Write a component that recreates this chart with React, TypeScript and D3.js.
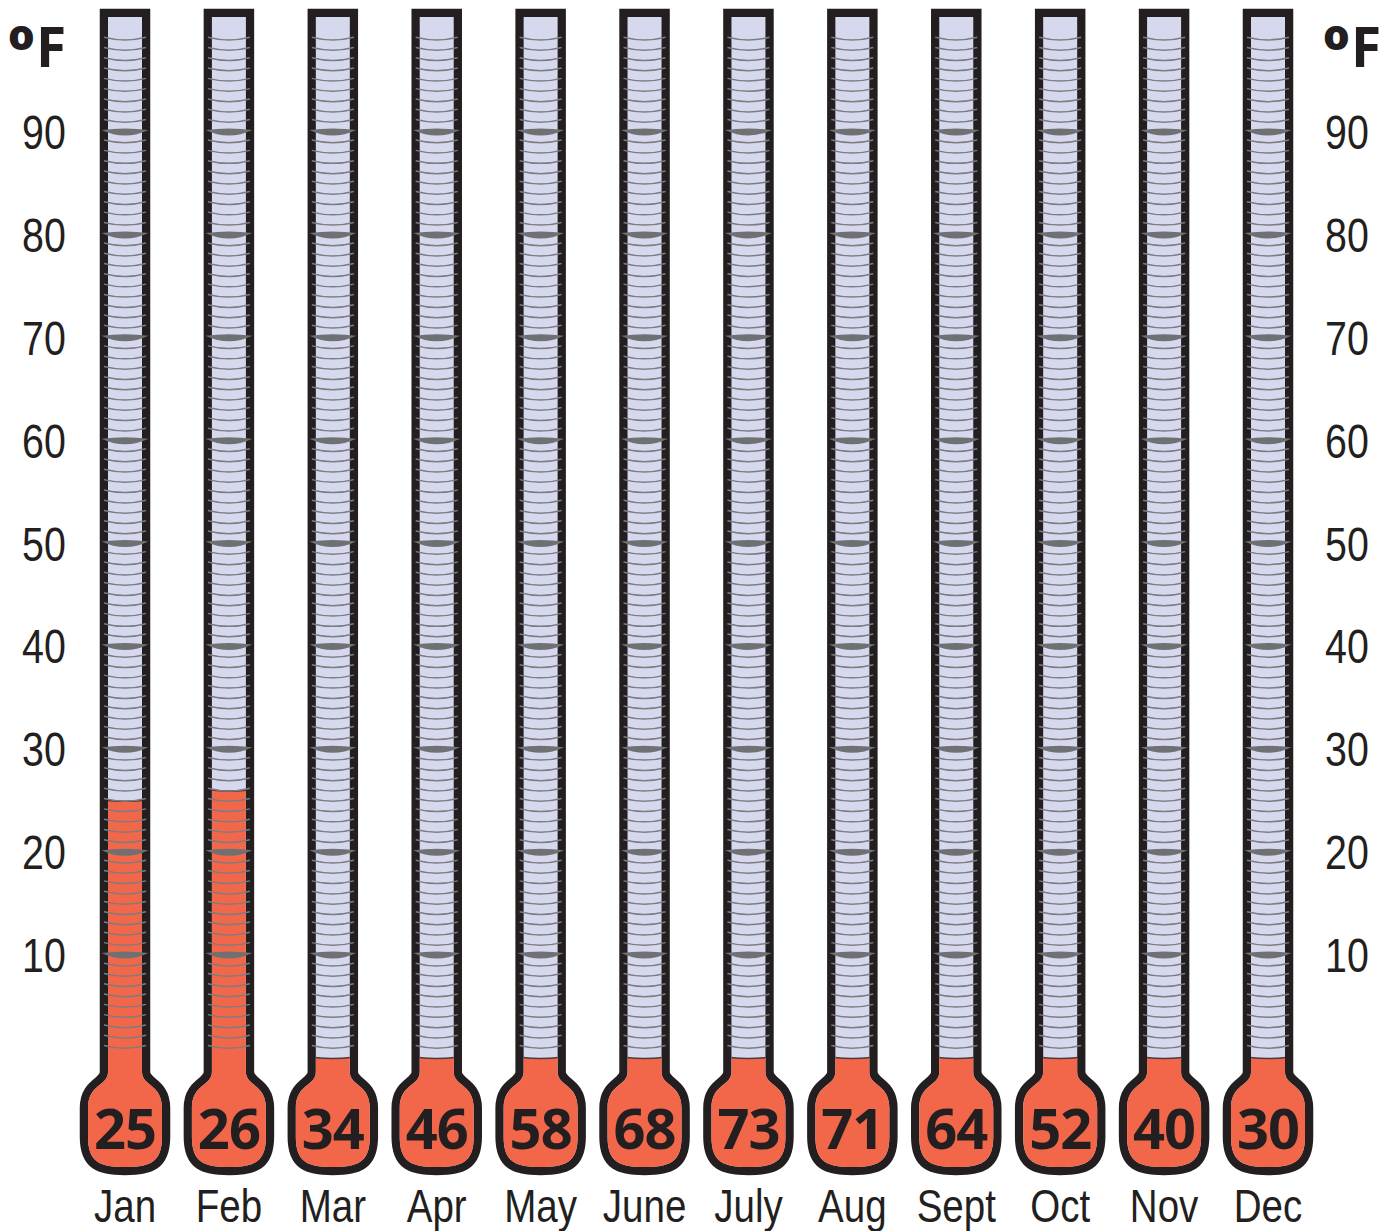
import React from 'react';
import * as d3 from 'd3';

const months = ['Jan', 'Feb', 'Mar', 'Apr', 'May', 'June', 'July', 'Aug', 'Sept', 'Oct', 'Nov', 'Dec'];
const temps = [25, 26, 34, 46, 58, 68, 73, 71, 64, 52, 40, 30];
const tubeLevels = [25, 26, 0, 0, 0, 0, 0, 0, 0, 0, 0, 0];
const axisTicks = [10, 20, 30, 40, 50, 60, 70, 80, 90];
const unitDeg = 'o';
const unitF = 'F';

const W = 1392;
const H = 1231;
const BLACK = '#231f20';
const LAV = '#d6d8ee';
const RED = '#f2674a';
const TICK = '#6f7072';
const NUMFONT = "'Noto Sans', 'DejaVu Sans', sans-serif";
const AXFONT = "'Liberation Sans', Arial, sans-serif";
const SX = 0.82;

function bulbPath(cx: number): string {
  const hw = 17, bw = 37, top = 17, neck = 1072, bottom = 1167;
  return `M${cx - hw},${top} L${cx + hw},${top} L${cx + hw},${neck} ` +
    `C${cx + hw},${neck + 14} ${cx + bw},${neck + 12} ${cx + bw},${neck + 36} ` +
    `L${cx + bw},${bottom - 30} C${cx + bw},${bottom - 4} ${cx + 24},${bottom} ${cx},${bottom} ` +
    `C${cx - 24},${bottom} ${cx - bw},${bottom - 4} ${cx - bw},${bottom - 30} ` +
    `L${cx - bw},${neck + 36} C${cx - bw},${neck + 12} ${cx - hw},${neck + 14} ${cx - hw},${neck} Z`;
}

export default function App() {
  const x = d3.scalePoint<string>().domain(months).range([125, 1268]);
  const y = d3.scaleLinear().domain([0, 90]).range([1058, 132]);
  const minor = d3.range(1, 100).filter((d) => d % 10 !== 0);
  const major = d3.range(10, 100, 10);

  return (
    <svg width={W} height={H} viewBox={`0 0 ${W} ${H}`}
      style={{ position: 'absolute', left: 0, top: 0, background: '#fff' }}>
      <defs>
        {months.map((m, i) => (
          <clipPath id={`clip${i}`} key={m}>
            <path d={bulbPath(x(m) as number)} />
          </clipPath>
        ))}
      </defs>
      {months.map((m, i) => {
        const cx = x(m) as number;
        const p = bulbPath(cx);
        const lvl = y(tubeLevels[i]);
        return (
          <g key={m}>
            <path d={p} fill={BLACK} stroke={BLACK} strokeWidth={16.5} strokeLinejoin="miter" />
            <path d={p} fill={LAV} />
            <g clipPath={`url(#clip${i})`}>
              <rect x={cx - 40} y={lvl} width={80} height={H - lvl} fill={RED} />
              <path d={`M${cx - 18},${lvl - 0.5} Q${cx},${lvl + 1.5} ${cx + 18},${lvl - 0.5}`}
                fill="none" stroke="#4a3a38" strokeWidth={1.6} />
            </g>
            {minor.map((d) => {
              const yy = y(d);
              return (
                <path key={d} d={`M${cx - 21},${yy - 2.2} Q${cx},${yy + 3.2} ${cx + 21},${yy - 2.2}`}
                  fill="none" stroke="#7c7d80" strokeWidth={1.5} />
              );
            })}
            {major.map((d) => {
              const yy = y(d);
              return (
                <path key={d}
                  d={`M${cx - 23.5},${yy - 2} Q${cx},${yy - 5} ${cx + 23.5},${yy - 2} Q${cx},${yy + 9} ${cx - 23.5},${yy - 2} Z`}
                  fill={TICK} />
              );
            })}
            <text x={cx} y={1149} textAnchor="middle" fontFamily={NUMFONT} fontWeight={700}
              fontSize={56} fill={BLACK} letterSpacing={-1}>{temps[i]}</text>
            <text transform={`translate(${cx},1222) scale(${SX},1)`} textAnchor="middle"
              fontFamily={AXFONT} fontSize={47} fill={BLACK}>{m}</text>
          </g>
        );
      })}
      {axisTicks.map((t) => (
        <g key={t}>
          <text transform={`translate(44,${y(t) + 17}) scale(${SX},1)`} textAnchor="middle"
            fontFamily={AXFONT} fontSize={48} fill={BLACK}>{t}</text>
          <text transform={`translate(1347,${y(t) + 17}) scale(${SX},1)`} textAnchor="middle"
            fontFamily={AXFONT} fontSize={48} fill={BLACK}>{t}</text>
        </g>
      ))}
      {[10, 1325].map((ox) => (
        <g key={ox}>
          <text x={ox - 2} y={50} fontFamily={NUMFONT} fontWeight={900} fontSize={42} fill={BLACK}>{unitDeg}</text>
          <text x={ox + 26} y={67} fontFamily={NUMFONT} fontWeight={700} fontSize={55} fill={BLACK}>{unitF}</text>
        </g>
      ))}
    </svg>
  );
}
